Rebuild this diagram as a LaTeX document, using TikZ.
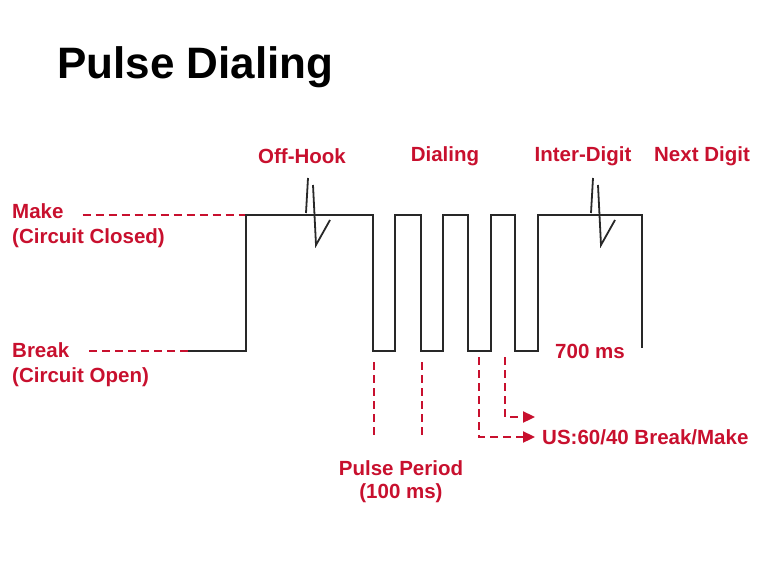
\documentclass[tikz,border=0pt]{standalone}
\usepackage{fontspec}
\setmainfont{Liberation Sans}
\usetikzlibrary{arrows.meta, positioning, calc}
\usepackage{xcolor}
\definecolor{vermelho}{RGB}{200, 16, 46}
\definecolor{grafite}{RGB}{40, 40, 40}
\tikzset{
  rotulo/.style={
    text=vermelho, font=\fontsize{20.5}{23}\selectfont\bfseries, inner sep=2pt
  },
  titulo/.style={text=black, font=\fontsize{44}{50}\selectfont\bfseries, inner sep=0pt},
  onda/.style={grafite, line width=2.3pt},
  guia/.style={vermelho, line width=2.3pt, dash pattern=on 8pt off 5pt},
  setaV/.style={guia, -{Triangle[length=12pt, width=11pt]}},
}
\begin{document}
\begin{tikzpicture}[x=1pt, y=-1pt]
  \useasboundingbox (0,0) rectangle (757,585);

  \node[titulo, anchor=west] (titulo) at (57,67) {Pulse Dialing};

  % rotulos dos niveis
  \node[rotulo, anchor=west] (make) at (10,211) {Make};
  \node[rotulo, anchor=west] (fechado) at (10,238) {(Circuit Closed)};
  \node[rotulo, anchor=west] (break) at (10,350) {Break};
  \node[rotulo, anchor=west] (aberto) at (10,377) {(Circuit Open)};

  % rotulos das fases
  \node[rotulo] (offhook) at (302,156) {Off-Hook};
  \node[rotulo] (dialing) at (445,156) {Dialing};
  \node[rotulo] (interdig) at (583,156) {Inter-Digit};
  \node[rotulo] (proximo) at (702,156) {Next Digit};
  \node[rotulo] (ms700) at (590,351) {700 ms};
  \node[rotulo, align=center] (periodo) at (401,482) {Pulse Period\\(100 ms)};
  \node[rotulo, anchor=west] (us) at (540,437) {US:60/40 Break/Make};

  \coordinate (mk0) at (246,215);
  \coordinate (brk0) at (188,351);

  % linhas guia dos niveis
  \draw[guia] ([xshift=17pt]make.east |- mk0) -- (mk0);
  \draw[guia] ([xshift=18pt]break.east |- brk0) -- (brk0);

  % forma de onda
  \draw[onda] (brk0) -- (246,351) -- (mk0)
    \foreach \a/\b in {373/395, 421/443, 468/491, 515/538} {
      -- (\a,215) -- (\a,351) -- (\b,351) -- (\b,215)
    } -- (642,215) -- (642,348);

  % ganchos
  \foreach \x in {0,285}
    \draw[onda, line width=1.8pt] (306+\x,213) -- (308+\x,178)
      (313+\x,185) -- (316+\x,245) -- (330+\x,220);

  % periodo e relacao
  \draw[guia] (374,362) -- (374,437);
  \draw[guia] (422,362) -- (422,437);
  \draw[setaV] (479,357) |- ([xshift=-5pt]us.west);
  \draw[setaV] (505,357) |- ([xshift=-5pt, yshift=20pt]us.west);
\end{tikzpicture}
\end{document}
